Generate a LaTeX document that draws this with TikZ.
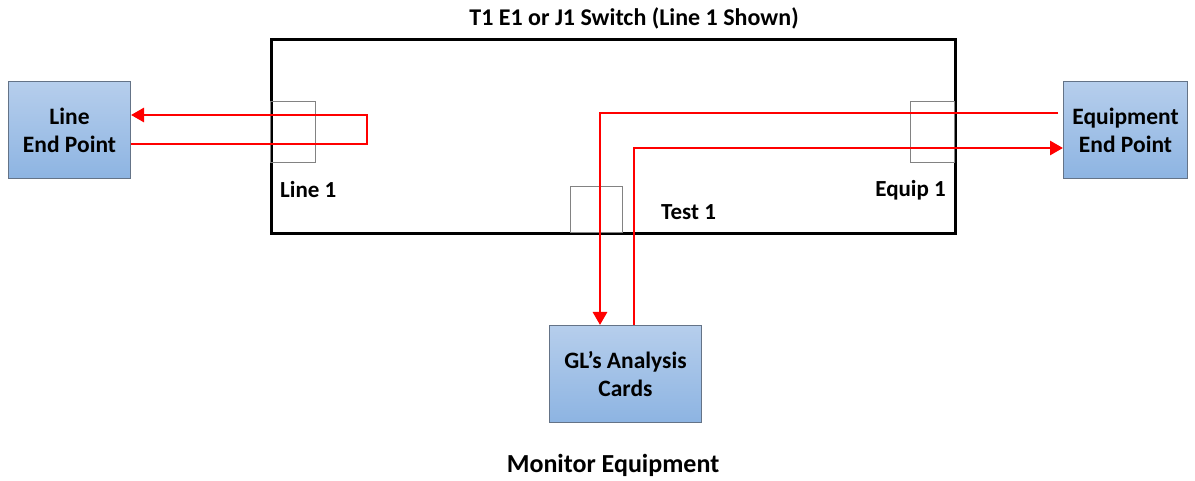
\documentclass[tikz,border=0pt]{standalone}
\usepackage{fontspec}
\setmainfont{Carlito}
\usetikzlibrary{arrows.meta,calc}
\definecolor{boxtop}{RGB}{182,206,236}
\definecolor{boxbot}{RGB}{141,180,226}
\definecolor{boxedge}{RGB}{100,115,135}
\definecolor{portedge}{RGB}{130,130,130}
\definecolor{wire}{RGB}{255,0,0}
\tikzset{
  endbox/.style={draw=boxedge, line width=1pt, top color=boxtop, bottom color=boxbot,
    minimum width=#1, minimum height=97pt, inner sep=0pt, align=center,
    font=\fontsize{23.5}{28}\selectfont\bfseries},
  portbox/.style={draw=portedge, line width=0.6pt, inner sep=0pt},
  lbl/.style={font=\fontsize{23}{27}\selectfont\bfseries, inner sep=0pt},
  wireline/.style={draw=wire, line width=2.8pt},
  wirearrow/.style={wireline, -{Triangle[length=13pt,width=14pt]}},
}
\begin{document}
\begin{tikzpicture}[x=1pt,y=-1pt]
\useasboundingbox (0,0) rectangle (1195,481);
% switch
\node[draw, line width=2.6pt, minimum width=684pt, minimum height=194pt, inner sep=0pt, anchor=north west] (sw) at (270,38) {};
\node[lbl, font=\fontsize{24}{28}\selectfont\bfseries] (title) at (634,18) {T1 E1 or J1 Switch (Line 1 Shown)};
% ports
\node[portbox, minimum width=45pt, minimum height=61pt, anchor=north west] (p1) at (270,101) {};
\node[portbox, minimum width=44pt, minimum height=61pt, anchor=north west] (p2) at (910,101) {};
\node[portbox, minimum width=52pt, minimum height=46pt, anchor=north west] (p3) at (570,186) {};
\node[lbl, anchor=west] (l1) at (280,190) {Line 1};
\node[lbl, anchor=west] (t1) at (661,212) {Test 1};
\node[lbl, anchor=east] (e1) at (946,190) {Equip 1};
% end boxes
\node[endbox=122pt, anchor=north west] (lep) at (8,81) {Line\\End Point};
\node[endbox=124pt, anchor=north west] (eep) at (1063,81) {Equipment\\End Point};
\node[endbox=152pt, anchor=north west] (gl) at (549,325) {GL’s Analysis\\Cards};
\node[lbl, font=\fontsize{26}{30}\selectfont\bfseries] (mon) at (613,465) {Monitor Equipment};
% wires
\coordinate (a1) at (lep.east |- 0,115);
\coordinate (a2) at (lep.east |- 0,144);
\draw[wirearrow] (a2) -- (367,144) -- (367,115) -- (a1);
\coordinate (b1) at (eep.west |- 0,113);
\coordinate (b2) at (eep.west |- 0,148);
\draw[wirearrow] ([xshift=-5pt]b1) -- (600,113) -- (gl.north -| 600,0);
\draw[wirearrow] (gl.north -| 634,0) -- (634,148) -- (b2);
\end{tikzpicture}
\end{document}
